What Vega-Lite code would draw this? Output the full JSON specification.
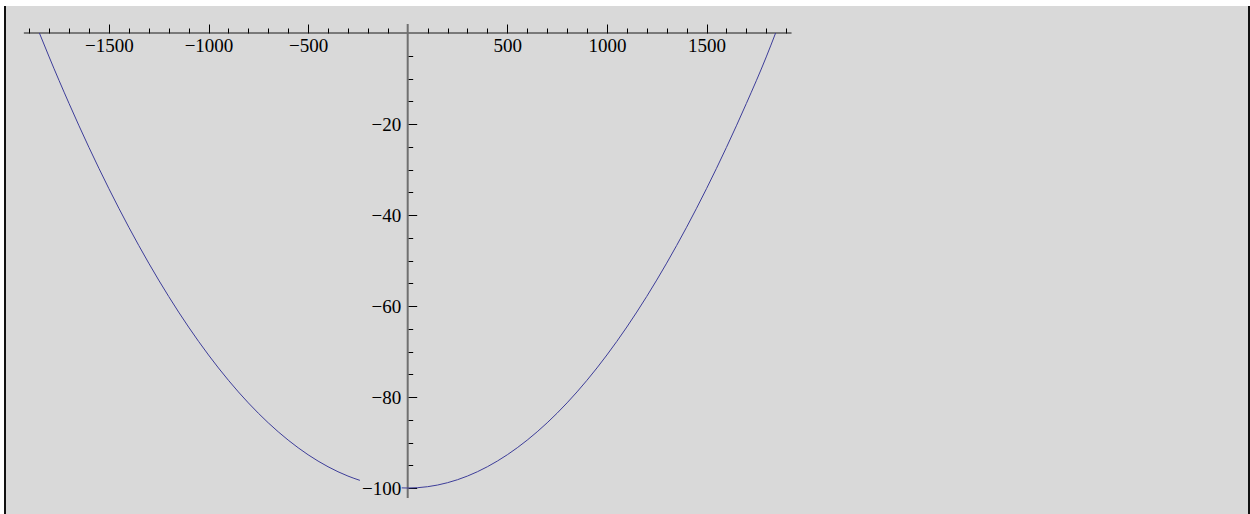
{
  "$schema": "https://vega.github.io/schema/vega-lite/v6.json",
  "width": 1244,
  "height": 508,
  "autosize": {"type": "none"},
  "padding": {"left": 5, "top": 6, "right": 1, "bottom": 0},
  "background": "white",
  "config": {
    "view": {"fill": "#d9d9d9", "stroke": "#111111", "strokeWidth": 2, "strokeDash": [0, 1244, 508, 1244, 508]},
    "axis": {"grid": false, "domain": false, "title": null, "labelFont": "Liberation Serif", "labelFontSize": 19, "labelColor": "black", "tickColor": "black", "tickWidth": 1, "labelOverlap": false, "labelFlush": false, "labelBound": false, "zindex": 1}
  },
  "layer": [
    {
      "data": {"values": [{"x1": -1927, "x2": 1927, "y": 0}]},
      "mark": {"type": "rule", "color": "#1a1a1a", "strokeWidth": 1},
      "encoding": {
        "x": {"field": "x1", "type": "quantitative", "scale": {"domain": [-2021.6, 4223.4], "nice": false, "zero": false},
          "axis": {"orient": "top", "offset": -27, "labels": false, "tickSize": 5,
            "values": [-1900, -1800, -1700, -1600, -1400, -1300, -1200, -1100, -900, -800, -700, -600, -400, -300, -200, -100, 100, 200, 300, 400, 600, 700, 800, 900, 1100, 1200, 1300, 1400, 1600, 1700, 1800, 1900]}},
        "x2": {"field": "x2"},
        "y": {"field": "y", "type": "quantitative", "scale": {"domain": [-105.71, 5.934], "nice": false, "zero": false},
          "axis": {"orient": "left", "offset": -402.7, "labels": false, "tickSize": -5,
            "values": [-95, -90, -85, -75, -70, -65, -55, -50, -45, -35, -30, -25, -15, -10, -5]}}
      }
    },
    {
      "data": {"values": [{"x": 0, "y1": 1.98, "y2": -102.2}]},
      "mark": {"type": "rule", "color": "#707070", "strokeWidth": 2},
      "encoding": {
        "x": {"field": "x", "type": "quantitative", "scale": {"domain": [-2021.6, 4223.4], "nice": false, "zero": false},
          "axis": {"orient": "bottom", "offset": -481, "ticks": false, "labelPadding": 3, "format": "d",
            "values": [-1500, -1000, -500, 500, 1000, 1500]}},
        "y": {"field": "y1", "type": "quantitative", "scale": {"domain": [-105.71, 5.934], "nice": false, "zero": false},
          "axis": {"orient": "left", "offset": -402.7, "ticks": false, "labelPadding": 7, "format": "d",
            "values": [-100, -80, -60, -40, -20]}},
        "y2": {"field": "y2"}
      }
    },
    {
      "data": {"values": [
        {"seg": "a", "x": -1849, "y": 0.0},
        {"seg": "a", "x": -1800, "y": -5.26},
        {"seg": "a", "x": -1700, "y": -15.5},
        {"seg": "a", "x": -1600, "y": -25.15},
        {"seg": "a", "x": -1500, "y": -34.21},
        {"seg": "a", "x": -1400, "y": -42.69},
        {"seg": "a", "x": -1300, "y": -50.58},
        {"seg": "a", "x": -1200, "y": -57.89},
        {"seg": "a", "x": -1100, "y": -64.62},
        {"seg": "a", "x": -1000, "y": -70.76},
        {"seg": "a", "x": -900, "y": -76.32},
        {"seg": "a", "x": -800, "y": -81.29},
        {"seg": "a", "x": -700, "y": -85.67},
        {"seg": "a", "x": -600, "y": -89.47},
        {"seg": "a", "x": -500, "y": -92.69},
        {"seg": "a", "x": -400, "y": -95.32},
        {"seg": "a", "x": -300, "y": -97.37},
        {"seg": "a", "x": -240, "y": -98.32},
        {"seg": "b", "x": -30, "y": -99.97},
        {"seg": "b", "x": 0, "y": -100},
        {"seg": "b", "x": 100, "y": -99.71},
        {"seg": "b", "x": 200, "y": -98.83},
        {"seg": "b", "x": 300, "y": -97.37},
        {"seg": "b", "x": 400, "y": -95.32},
        {"seg": "b", "x": 500, "y": -92.69},
        {"seg": "b", "x": 600, "y": -89.47},
        {"seg": "b", "x": 700, "y": -85.67},
        {"seg": "b", "x": 800, "y": -81.29},
        {"seg": "b", "x": 900, "y": -76.32},
        {"seg": "b", "x": 1000, "y": -70.76},
        {"seg": "b", "x": 1100, "y": -64.62},
        {"seg": "b", "x": 1200, "y": -57.89},
        {"seg": "b", "x": 1300, "y": -50.58},
        {"seg": "b", "x": 1400, "y": -42.69},
        {"seg": "b", "x": 1500, "y": -34.21},
        {"seg": "b", "x": 1600, "y": -25.15},
        {"seg": "b", "x": 1700, "y": -15.5},
        {"seg": "b", "x": 1800, "y": -5.26},
        {"seg": "b", "x": 1847, "y": 0.0}
      ]},
      "mark": {"type": "line", "color": "#3d3d99", "strokeWidth": 1, "interpolate": "monotone"},
      "encoding": {
        "x": {"field": "x", "type": "quantitative", "scale": {"domain": [-2021.6, 4223.4], "nice": false, "zero": false},
          "axis": {"orient": "top", "offset": -27, "labels": false, "tickSize": 9,
            "values": [-1500, -1000, -500, 500, 1000, 1500]}},
        "y": {"field": "y", "type": "quantitative", "scale": {"domain": [-105.71, 5.934], "nice": false, "zero": false},
          "axis": {"orient": "left", "offset": -402.7, "labels": false, "tickSize": -9,
            "values": [-100, -80, -60, -40, -20]}},
        "detail": {"field": "seg", "type": "nominal"},
        "order": {"field": "x", "type": "quantitative"}
      }
    }
  ],
  "resolve": {"axis": {"x": "independent", "y": "independent"}}
}
